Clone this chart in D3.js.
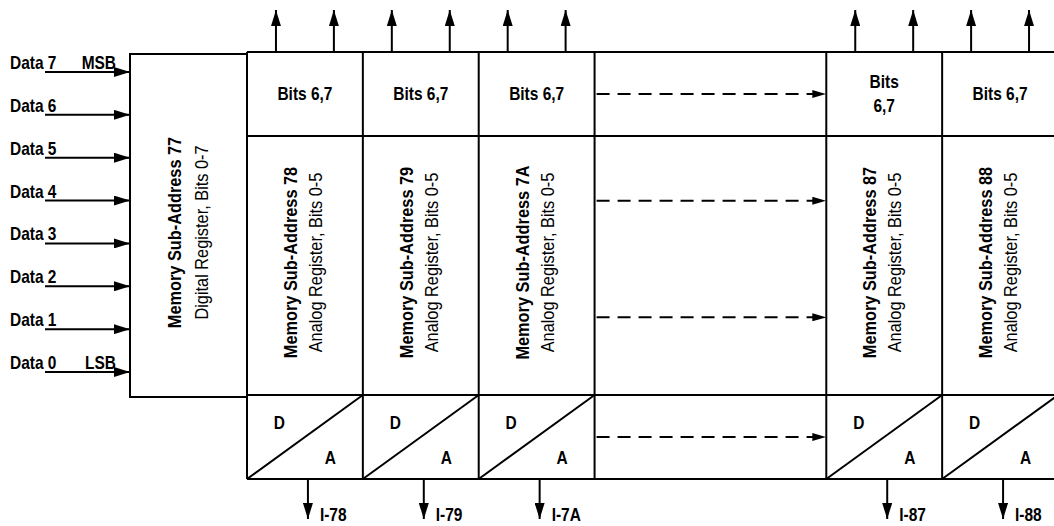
<!DOCTYPE html>
<html>
<head>
<meta charset="utf-8">
<script src="https://cdn.jsdelivr.net/npm/d3@7"></script>
<style>
  body { margin: 0; background: #fff; }
  svg { display: block; }
  text { font-family: "Liberation Sans", Arial, sans-serif; fill: #000; }
</style>
</head>
<body>
<div id="chart"></div>
<script>
// data inputs on the left, top to bottom
const dataInputs = ["Data 7", "Data 6", "Data 5", "Data 4", "Data 3", "Data 2", "Data 1", "Data 0"];
const inputTags = { "Data 7": "MSB", "Data 0": "LSB" };

// the digital register box
const digitalTitle = "Memory Sub-Address 77";
const digitalSub = "Digital Register, Bits 0-7";

// analog registers and the slot each sits in (slots 3-4 are the skipped ones)
const registers = ["78", "79", "7A", "87", "88"];
const registerSlots = [0, 1, 2, 5, 6];
const bitsLabels = [["Bits 6,7"], ["Bits 6,7"], ["Bits 6,7"], ["Bits", "6,7"], ["Bits 6,7"]];
const outputs = ["I-78", "I-79", "I-7A", "I-87", "I-88"];
const analogSub = "Analog Register, Bits 0-5";

// dashed "and so on" arrows, in row units (0-1 bits, 1-2 analog, 2-3 D/A)
const gapSlots = [3, 5];
const dashedRows = [0.5, 1.25, 1.7, 2.5];

const W = 1054, H = 526;
const svg = d3.select("#chart").append("svg")
    .attr("width", W)
    .attr("height", H);

const x = d3.scaleLinear().domain([-1, 0, 7]).range([130, 247, 1058]);
const y = d3.scaleLinear().domain([0, 1, 2, 3]).range([52, 136, 395, 479]);
const yIn = d3.scalePoint().domain(dataInputs).range([72, 372]);

const defs = svg.append("defs");
function marker(id, len, half) {
    defs.append("marker")
        .attr("id", id)
        .attr("markerUnits", "userSpaceOnUse")
        .attr("viewBox", `0 ${-half} ${len} ${half * 2}`)
        .attr("refX", len).attr("refY", 0)
        .attr("markerWidth", len).attr("markerHeight", half * 2)
        .attr("orient", "auto")
        .append("path")
        .attr("d", `M0,${-half}L${len},0L0,${half}Z`)
        .attr("fill", "#000");
}
marker("head", 16, 5);
marker("headSmall", 14, 4);

const ink = { stroke: "#000", "stroke-width": 2, fill: "none" };
function line(g, x1, y1, x2, y2) {
    const l = g.append("line").attr("x1", x1).attr("y1", y1).attr("x2", x2).attr("y2", y2);
    Object.entries(ink).forEach(([k, v]) => l.attr(k, v));
    return l;
}
function label(g, str, px, py, opts = {}) {
    const size = opts.size || 18;
    const sx = opts.squeeze || 0.86;
    const rot = opts.rotate ? " rotate(-90)" : "";
    return g.append("text")
        .attr("transform", `translate(${px},${py})${rot} scale(${sx},1)`)
        .attr("text-anchor", opts.anchor || "start")
        .attr("font-size", size)
        .attr("font-weight", opts.weight || "bold")
        .text(str);
}

// Entradas de dados
const inputs = svg.append("g").attr("class", "inputs");
dataInputs.forEach(d => {
    const yy = yIn(d);
    line(inputs, 45, yy, x(-1), yy).attr("marker-end", "url(#head)");
    label(inputs, d, 10, yy - 3);
    if (inputTags[d]) label(inputs, inputTags[d], 116, yy - 3, { anchor: "end" });
});

// Registrador digital 77
const dig = svg.append("g").attr("class", "digital");
const digTop = y(0) + 2, digBot = y(2) + 2;
dig.append("rect")
    .attr("x", x(-1)).attr("y", digTop)
    .attr("width", x(0) - x(-1)).attr("height", digBot - digTop)
    .attr("stroke", "#000").attr("stroke-width", 2).attr("fill", "none");
const digCx = (x(-1) + x(0)) / 2, digCy = (digTop + digBot) / 2 + 7;
label(dig, digitalTitle, digCx - 8, digCy, { rotate: true, anchor: "middle", size: 19 });
label(dig, digitalSub, digCx + 19, digCy, { rotate: true, anchor: "middle", size: 19, weight: "normal" });

// Grade dos registradores analogicos
const grid = svg.append("g").attr("class", "grid");
[0, 1, 2, 3].forEach(r => line(grid, x(0), y(r), W + 2, y(r)));
[0, 1, 2, 3, 5, 6].forEach(s => line(grid, x(s), y(0), x(s), y(3)));

const regs = svg.append("g").attr("class", "registers");
registers.forEach((reg, i) => {
    const s = registerSlots[i];
    const cx = x(s + 0.5);
    // outputs of bits 6,7
    [0.25, 0.75].forEach(f => line(regs, x(s + f), y(0), x(s + f), 10).attr("marker-end", "url(#head)"));
    // bits cell label
    const lines = bitsLabels[i];
    const midB = (y(0) + y(1)) / 2;
    lines.forEach((t, k) => {
        const by = midB + 6 + (k - (lines.length - 1) / 2) * 24;
        label(regs, t, cx, by, { anchor: "middle", size: 18 });
    });
    // analog cell label
    const midA = (y(1) + y(2)) / 2 - 3;
    label(regs, "Memory Sub-Address " + reg, cx - 8, midA, { rotate: true, anchor: "middle", size: 19 });
    label(regs, analogSub, cx + 17, midA, { rotate: true, anchor: "middle", size: 19, weight: "normal" });
    // D/A cell
    line(regs, x(s), y(3), x(s + 1), y(2));
    label(regs, "D", x(s + 0.28), y(2) + 34, { anchor: "middle", size: 18 });
    label(regs, "A", x(s + 0.72), y(2) + 69, { anchor: "middle", size: 18 });
    // current output
    line(regs, cx + 3, y(3), cx + 3, 519).attr("marker-end", "url(#head)");
    label(regs, outputs[i], cx + 15, 521, { size: 18 });
});

// setas tracejadas pelo intervalo omitido
const gap = svg.append("g").attr("class", "gap");
dashedRows.forEach(r => {
    line(gap, x(gapSlots[0]) + 2, y(r), x(gapSlots[1]), y(r))
        .attr("stroke-dasharray", "13,8")
        .attr("marker-end", "url(#headSmall)");
});
</script>
</body>
</html>
